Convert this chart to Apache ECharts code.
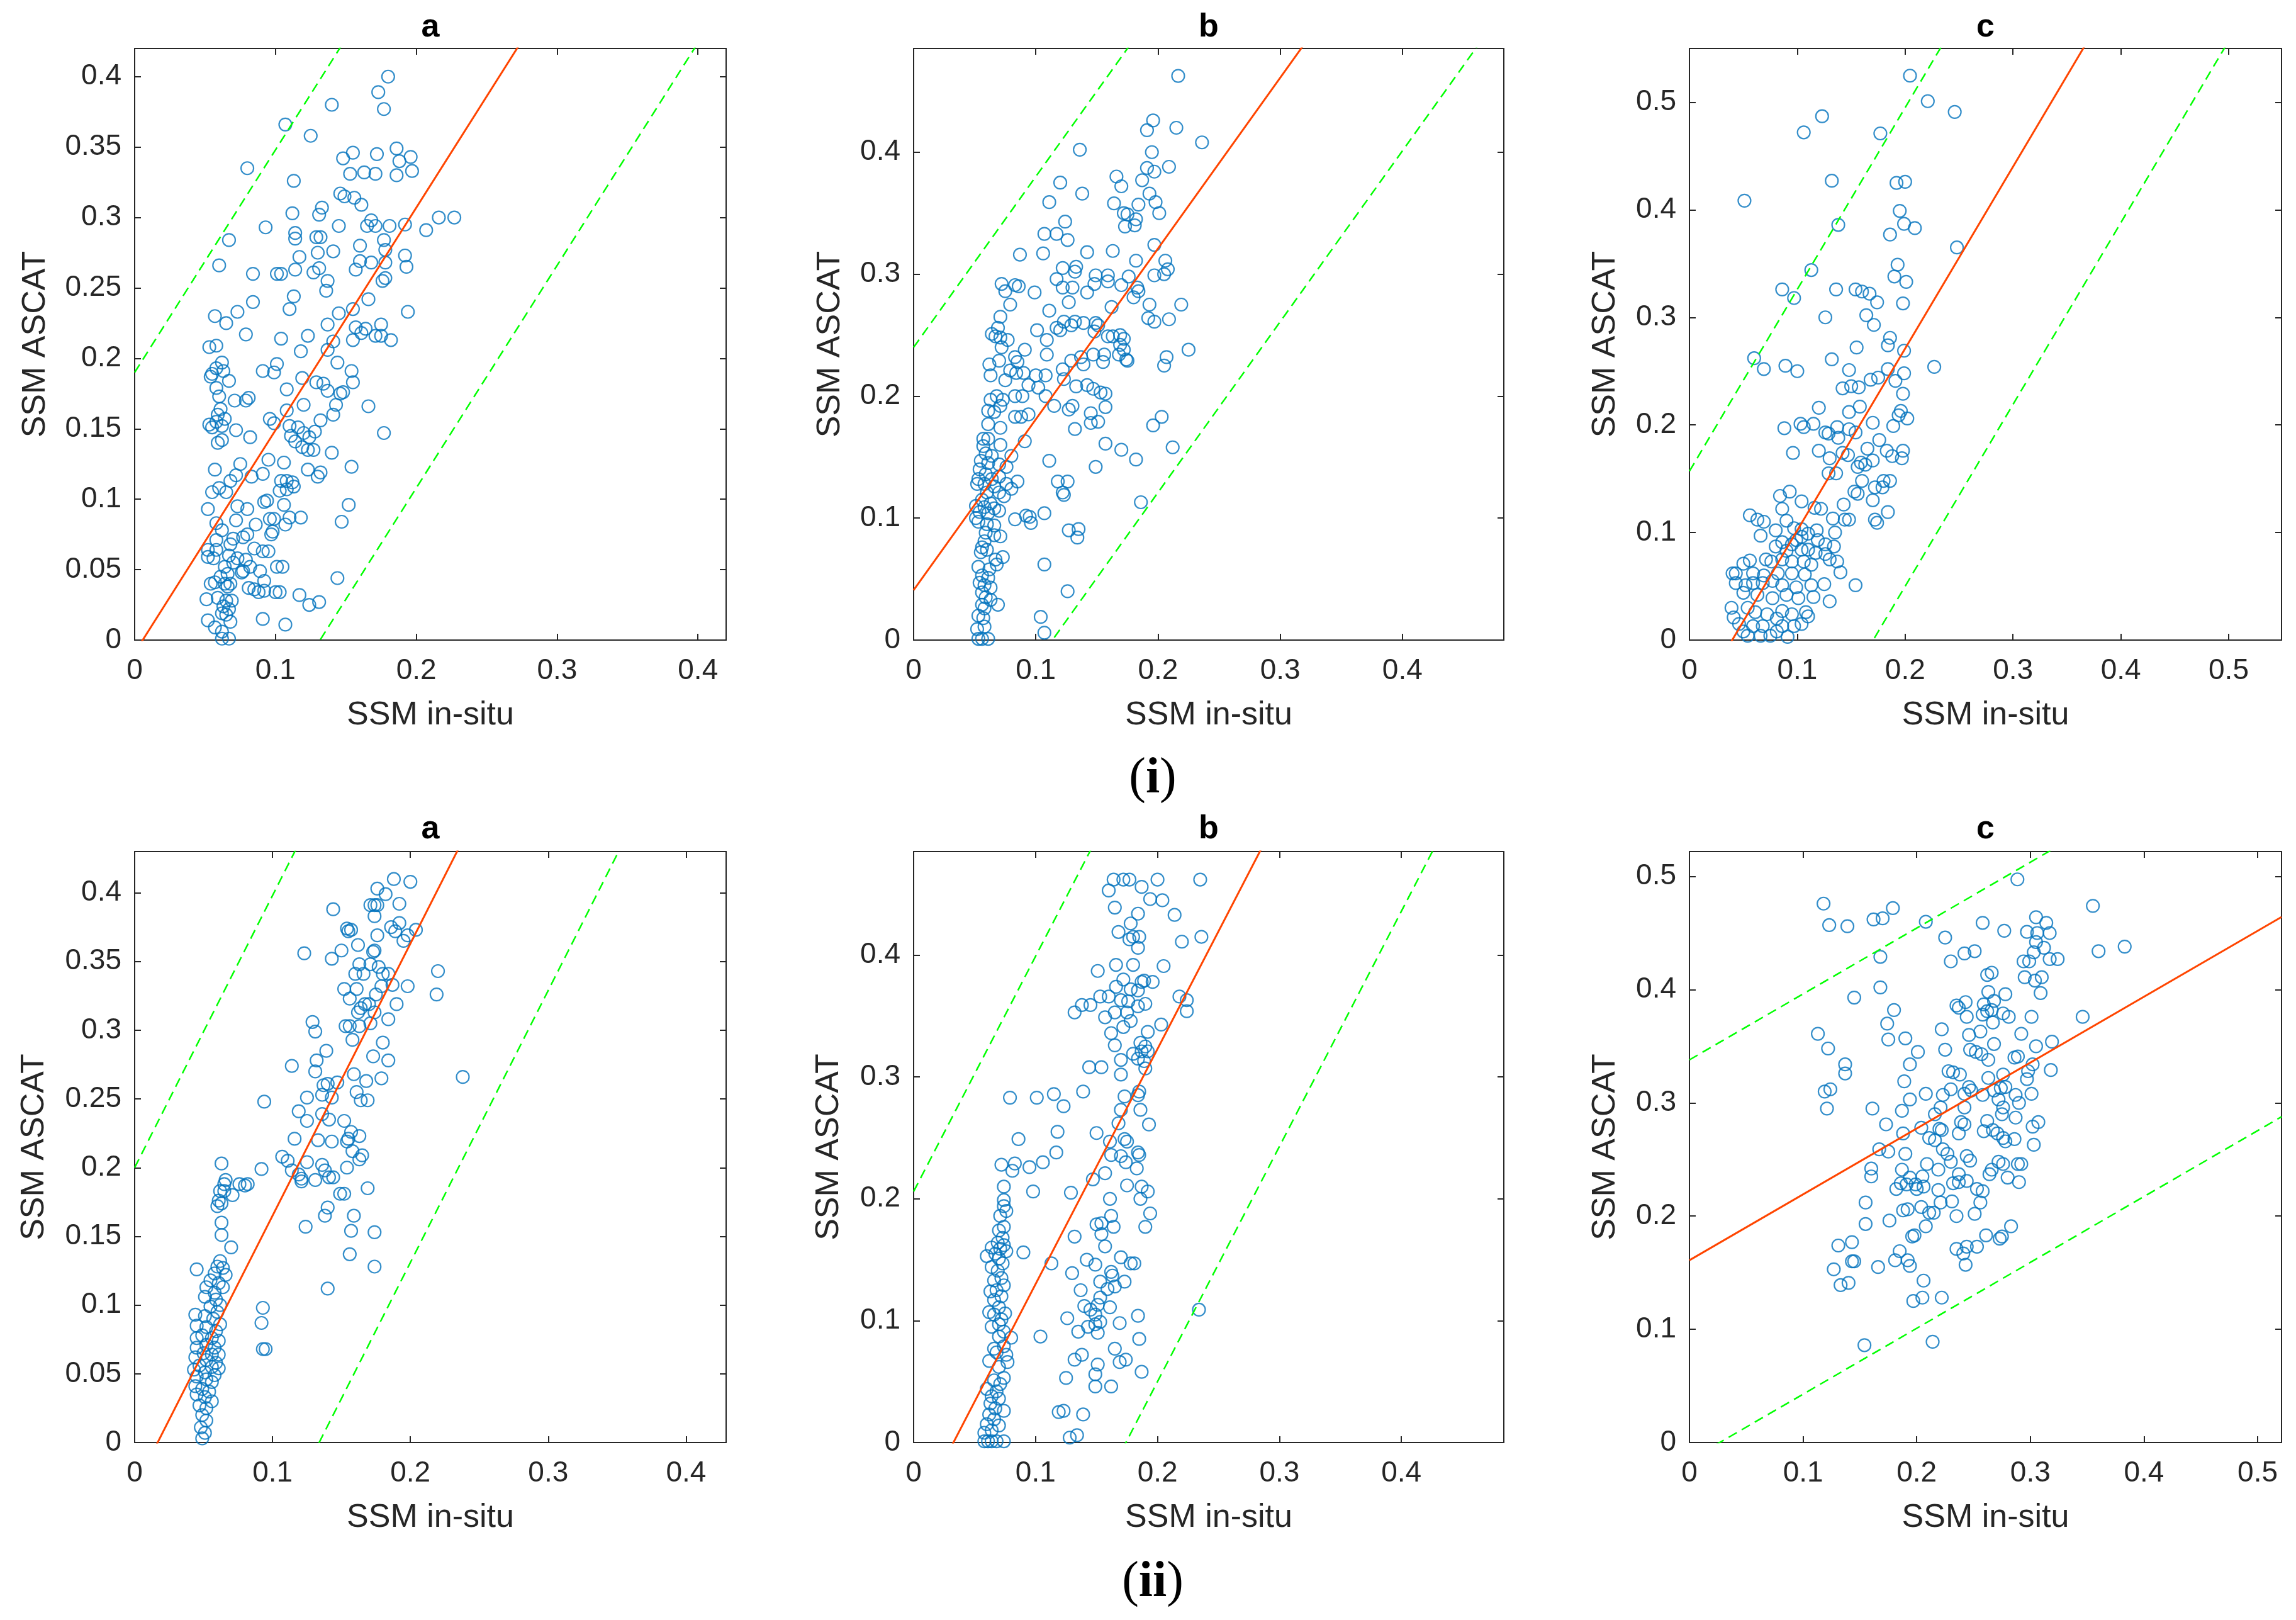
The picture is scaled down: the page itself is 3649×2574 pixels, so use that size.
<!DOCTYPE html>
<html><head><meta charset="utf-8">
<script src="https://cdn.jsdelivr.net/npm/echarts@6/dist/echarts.min.js"></script>
<style>html,body{margin:0;padding:0;background:#fff}#c{width:3649px;height:2574px}</style>
</head><body><div id="c"></div>
<script>
const panelTitles = ['a', 'b', 'c', 'a', 'b', 'c'];
const rowLabels = ['i', 'ii'];
const xAxisName = 'SSM in-situ';
const yAxisName = 'SSM ASCAT';
const xMaxes = [0.42, 0.483, 0.549, 0.429, 0.484, 0.521];
const yMaxes = [0.42, 0.485, 0.55, 0.43, 0.485, 0.522];
const xIntervals = [0.1, 0.1, 0.1, 0.1, 0.1, 0.1];
const yIntervals = [0.05, 0.1, 0.1, 0.05, 0.1, 0.1];
const fitSlopes = [1.58, 1.40, 1.69, 1.98, 1.93, 0.582];
const fitIntercepts = [-0.009, 0.041, -0.067, -0.033, -0.063, 0.161];
const upperIntercepts = [0.19, 0.24, 0.157, 0.2, 0.206, 0.338];
const lowerIntercepts = [-0.208, -0.159, -0.288, -0.265, -0.336, -0.0155];

const pointsIA = [[0.180,0.400],[0.173,0.389],[0.177,0.377],[0.140,0.380],[0.107,0.366],[0.125,0.358],[0.080,0.335],[0.186,0.349],[0.196,0.343],[0.188,0.340],[0.172,0.345],[0.155,0.346],[0.148,0.342],[0.153,0.331],[0.163,0.332],[0.171,0.331],[0.186,0.330],[0.197,0.333],[0.113,0.326],[0.146,0.317],[0.149,0.315],[0.156,0.314],[0.161,0.309],[0.133,0.307],[0.131,0.302],[0.112,0.303],[0.093,0.293],[0.145,0.294],[0.168,0.298],[0.165,0.294],[0.171,0.294],[0.181,0.294],[0.192,0.295],[0.207,0.291],[0.216,0.300],[0.227,0.300],[0.114,0.289],[0.114,0.285],[0.067,0.284],[0.129,0.286],[0.132,0.286],[0.177,0.284],[0.141,0.276],[0.130,0.275],[0.160,0.280],[0.178,0.277],[0.117,0.272],[0.192,0.273],[0.160,0.269],[0.168,0.268],[0.178,0.268],[0.060,0.266],[0.114,0.263],[0.131,0.264],[0.127,0.261],[0.157,0.263],[0.193,0.265],[0.084,0.260],[0.101,0.260],[0.104,0.260],[0.137,0.255],[0.176,0.255],[0.178,0.257],[0.136,0.248],[0.113,0.244],[0.084,0.240],[0.166,0.242],[0.110,0.235],[0.155,0.235],[0.145,0.232],[0.194,0.233],[0.073,0.233],[0.057,0.230],[0.137,0.224],[0.065,0.225],[0.175,0.224],[0.157,0.222],[0.164,0.221],[0.161,0.218],[0.171,0.216],[0.175,0.216],[0.079,0.217],[0.104,0.214],[0.123,0.216],[0.155,0.213],[0.182,0.213],[0.141,0.212],[0.053,0.208],[0.058,0.209],[0.118,0.205],[0.137,0.206],[0.101,0.196],[0.144,0.197],[0.062,0.197],[0.091,0.191],[0.099,0.190],[0.154,0.191],[0.055,0.189],[0.058,0.193],[0.063,0.191],[0.054,0.187],[0.067,0.184],[0.058,0.179],[0.119,0.186],[0.129,0.183],[0.134,0.182],[0.155,0.183],[0.108,0.178],[0.137,0.177],[0.148,0.176],[0.146,0.175],[0.060,0.173],[0.081,0.172],[0.079,0.170],[0.071,0.170],[0.166,0.166],[0.120,0.167],[0.143,0.167],[0.061,0.164],[0.108,0.163],[0.141,0.160],[0.059,0.160],[0.064,0.157],[0.096,0.157],[0.099,0.154],[0.132,0.156],[0.053,0.153],[0.058,0.155],[0.062,0.152],[0.055,0.151],[0.110,0.152],[0.072,0.149],[0.177,0.147],[0.116,0.151],[0.128,0.148],[0.111,0.145],[0.120,0.147],[0.124,0.144],[0.082,0.144],[0.062,0.142],[0.059,0.140],[0.114,0.141],[0.119,0.137],[0.123,0.135],[0.127,0.135],[0.140,0.133],[0.057,0.121],[0.154,0.123],[0.075,0.125],[0.095,0.128],[0.106,0.126],[0.123,0.121],[0.132,0.119],[0.130,0.116],[0.072,0.117],[0.091,0.118],[0.068,0.113],[0.083,0.116],[0.104,0.113],[0.108,0.113],[0.112,0.112],[0.113,0.109],[0.108,0.107],[0.103,0.106],[0.055,0.105],[0.065,0.105],[0.060,0.108],[0.092,0.098],[0.094,0.099],[0.106,0.096],[0.073,0.095],[0.080,0.093],[0.052,0.093],[0.152,0.096],[0.147,0.084],[0.072,0.085],[0.096,0.086],[0.099,0.086],[0.110,0.087],[0.118,0.087],[0.058,0.083],[0.086,0.082],[0.107,0.082],[0.098,0.077],[0.097,0.075],[0.062,0.078],[0.080,0.075],[0.077,0.073],[0.070,0.072],[0.058,0.071],[0.068,0.068],[0.052,0.064],[0.058,0.064],[0.085,0.065],[0.091,0.063],[0.095,0.063],[0.052,0.059],[0.056,0.058],[0.067,0.060],[0.073,0.058],[0.079,0.057],[0.070,0.055],[0.064,0.052],[0.082,0.052],[0.101,0.052],[0.105,0.052],[0.089,0.049],[0.076,0.048],[0.077,0.049],[0.066,0.047],[0.061,0.045],[0.144,0.044],[0.092,0.042],[0.054,0.040],[0.057,0.041],[0.064,0.040],[0.068,0.040],[0.066,0.038],[0.081,0.037],[0.085,0.036],[0.088,0.034],[0.092,0.035],[0.100,0.034],[0.103,0.034],[0.117,0.032],[0.051,0.029],[0.059,0.030],[0.065,0.028],[0.069,0.028],[0.131,0.027],[0.124,0.025],[0.063,0.024],[0.067,0.022],[0.062,0.019],[0.065,0.018],[0.052,0.014],[0.068,0.013],[0.091,0.015],[0.107,0.011],[0.057,0.009],[0.062,0.006],[0.062,0.001],[0.067,0.001]];

const pointsIB = [[0.2165,0.4625],[0.196,0.426],[0.191,0.418],[0.215,0.420],[0.236,0.408],[0.136,0.402],[0.195,0.400],[0.191,0.387],[0.197,0.384],[0.209,0.388],[0.166,0.380],[0.170,0.372],[0.187,0.377],[0.120,0.375],[0.138,0.366],[0.193,0.366],[0.111,0.359],[0.164,0.358],[0.198,0.359],[0.184,0.357],[0.201,0.350],[0.172,0.350],[0.175,0.349],[0.182,0.345],[0.173,0.339],[0.181,0.340],[0.124,0.343],[0.117,0.333],[0.107,0.333],[0.126,0.328],[0.197,0.324],[0.087,0.316],[0.106,0.317],[0.142,0.318],[0.163,0.319],[0.182,0.311],[0.206,0.311],[0.122,0.305],[0.133,0.306],[0.132,0.302],[0.208,0.304],[0.205,0.300],[0.117,0.296],[0.149,0.299],[0.159,0.299],[0.176,0.298],[0.197,0.299],[0.072,0.292],[0.083,0.291],[0.086,0.290],[0.122,0.289],[0.130,0.289],[0.148,0.292],[0.159,0.294],[0.170,0.291],[0.183,0.289],[0.075,0.286],[0.099,0.285],[0.142,0.285],[0.184,0.286],[0.180,0.281],[0.127,0.277],[0.079,0.275],[0.193,0.275],[0.219,0.275],[0.162,0.273],[0.111,0.270],[0.209,0.263],[0.192,0.264],[0.197,0.261],[0.071,0.265],[0.123,0.261],[0.132,0.261],[0.139,0.260],[0.149,0.260],[0.151,0.258],[0.129,0.258],[0.117,0.256],[0.120,0.254],[0.101,0.254],[0.069,0.256],[0.064,0.251],[0.067,0.249],[0.071,0.248],[0.109,0.246],[0.148,0.253],[0.159,0.249],[0.163,0.249],[0.169,0.250],[0.172,0.247],[0.077,0.246],[0.169,0.242],[0.172,0.238],[0.225,0.238],[0.072,0.240],[0.091,0.238],[0.147,0.234],[0.156,0.234],[0.168,0.234],[0.174,0.230],[0.207,0.232],[0.109,0.234],[0.083,0.232],[0.137,0.232],[0.129,0.229],[0.070,0.229],[0.155,0.228],[0.175,0.229],[0.085,0.228],[0.062,0.226],[0.205,0.225],[0.139,0.226],[0.122,0.222],[0.079,0.221],[0.063,0.217],[0.084,0.219],[0.090,0.219],[0.108,0.217],[0.100,0.217],[0.123,0.214],[0.075,0.213],[0.094,0.209],[0.133,0.208],[0.142,0.209],[0.102,0.207],[0.147,0.206],[0.153,0.203],[0.157,0.202],[0.083,0.200],[0.089,0.200],[0.108,0.200],[0.068,0.200],[0.063,0.197],[0.073,0.197],[0.115,0.192],[0.130,0.192],[0.071,0.192],[0.127,0.189],[0.157,0.191],[0.061,0.188],[0.066,0.187],[0.145,0.186],[0.094,0.185],[0.083,0.183],[0.088,0.183],[0.203,0.183],[0.145,0.178],[0.151,0.179],[0.061,0.177],[0.196,0.176],[0.071,0.174],[0.132,0.173],[0.057,0.165],[0.061,0.165],[0.091,0.163],[0.157,0.161],[0.212,0.158],[0.170,0.156],[0.057,0.159],[0.071,0.160],[0.059,0.153],[0.064,0.151],[0.080,0.151],[0.111,0.147],[0.182,0.148],[0.055,0.147],[0.061,0.145],[0.070,0.144],[0.076,0.142],[0.149,0.142],[0.054,0.140],[0.059,0.136],[0.064,0.132],[0.070,0.134],[0.053,0.132],[0.118,0.130],[0.126,0.130],[0.085,0.130],[0.052,0.128],[0.058,0.128],[0.066,0.126],[0.076,0.128],[0.080,0.124],[0.060,0.121],[0.122,0.121],[0.123,0.119],[0.074,0.118],[0.070,0.121],[0.056,0.115],[0.063,0.112],[0.186,0.113],[0.051,0.110],[0.058,0.109],[0.066,0.108],[0.070,0.106],[0.107,0.104],[0.054,0.105],[0.061,0.104],[0.051,0.100],[0.083,0.099],[0.092,0.102],[0.095,0.101],[0.096,0.096],[0.053,0.097],[0.060,0.095],[0.066,0.094],[0.127,0.090],[0.135,0.091],[0.134,0.084],[0.059,0.088],[0.066,0.086],[0.071,0.085],[0.058,0.081],[0.056,0.076],[0.060,0.074],[0.055,0.072],[0.073,0.068],[0.067,0.066],[0.068,0.062],[0.107,0.062],[0.053,0.060],[0.062,0.058],[0.056,0.053],[0.061,0.051],[0.054,0.047],[0.058,0.045],[0.063,0.043],[0.056,0.039],[0.059,0.035],[0.063,0.033],[0.126,0.040],[0.056,0.029],[0.069,0.029],[0.058,0.026],[0.053,0.020],[0.057,0.018],[0.104,0.019],[0.052,0.009],[0.058,0.011],[0.107,0.006],[0.053,0.001],[0.056,0.001],[0.061,0.001]];

const pointsIC = [[0.2045,0.5247],[0.221,0.501],[0.246,0.491],[0.123,0.487],[0.106,0.472],[0.177,0.471],[0.051,0.4085],[0.132,0.427],[0.192,0.425],[0.200,0.426],[0.195,0.399],[0.138,0.386],[0.199,0.387],[0.209,0.383],[0.186,0.377],[0.248,0.365],[0.193,0.349],[0.113,0.344],[0.190,0.338],[0.201,0.333],[0.086,0.326],[0.136,0.326],[0.154,0.326],[0.160,0.324],[0.167,0.322],[0.097,0.318],[0.174,0.314],[0.198,0.313],[0.126,0.300],[0.164,0.302],[0.171,0.293],[0.186,0.281],[0.184,0.274],[0.155,0.272],[0.199,0.269],[0.060,0.262],[0.132,0.261],[0.089,0.255],[0.069,0.252],[0.100,0.250],[0.227,0.254],[0.184,0.252],[0.148,0.251],[0.199,0.248],[0.168,0.242],[0.175,0.244],[0.191,0.241],[0.142,0.234],[0.150,0.236],[0.157,0.235],[0.198,0.229],[0.120,0.216],[0.158,0.217],[0.148,0.212],[0.196,0.213],[0.202,0.206],[0.194,0.209],[0.170,0.202],[0.103,0.201],[0.106,0.198],[0.088,0.197],[0.115,0.201],[0.137,0.198],[0.148,0.196],[0.126,0.193],[0.129,0.192],[0.154,0.193],[0.189,0.199],[0.138,0.188],[0.176,0.186],[0.165,0.178],[0.120,0.176],[0.096,0.174],[0.183,0.176],[0.198,0.176],[0.142,0.174],[0.147,0.172],[0.188,0.171],[0.197,0.169],[0.130,0.169],[0.159,0.165],[0.156,0.161],[0.170,0.167],[0.163,0.163],[0.129,0.155],[0.136,0.155],[0.160,0.148],[0.180,0.148],[0.186,0.148],[0.179,0.142],[0.172,0.142],[0.153,0.138],[0.156,0.136],[0.084,0.134],[0.093,0.138],[0.104,0.129],[0.170,0.130],[0.143,0.126],[0.086,0.122],[0.116,0.123],[0.122,0.122],[0.184,0.119],[0.056,0.116],[0.063,0.112],[0.069,0.110],[0.090,0.111],[0.133,0.113],[0.144,0.112],[0.148,0.112],[0.172,0.112],[0.174,0.109],[0.080,0.102],[0.097,0.104],[0.066,0.097],[0.104,0.103],[0.118,0.102],[0.135,0.100],[0.104,0.096],[0.110,0.099],[0.119,0.093],[0.086,0.091],[0.095,0.089],[0.099,0.093],[0.126,0.089],[0.134,0.087],[0.080,0.087],[0.090,0.083],[0.104,0.084],[0.110,0.084],[0.117,0.081],[0.126,0.080],[0.130,0.075],[0.137,0.073],[0.056,0.074],[0.071,0.075],[0.076,0.073],[0.086,0.075],[0.095,0.073],[0.106,0.073],[0.113,0.070],[0.050,0.071],[0.043,0.062],[0.040,0.062],[0.059,0.062],[0.069,0.060],[0.082,0.062],[0.095,0.062],[0.107,0.061],[0.140,0.063],[0.043,0.053],[0.052,0.051],[0.059,0.053],[0.068,0.053],[0.077,0.055],[0.086,0.051],[0.099,0.049],[0.113,0.051],[0.125,0.052],[0.154,0.051],[0.050,0.044],[0.063,0.042],[0.077,0.039],[0.090,0.042],[0.101,0.039],[0.115,0.040],[0.130,0.036],[0.039,0.030],[0.041,0.021],[0.054,0.030],[0.061,0.026],[0.072,0.024],[0.086,0.027],[0.095,0.024],[0.108,0.026],[0.110,0.022],[0.081,0.020],[0.046,0.015],[0.059,0.013],[0.068,0.013],[0.086,0.013],[0.097,0.013],[0.104,0.015],[0.054,0.004],[0.066,0.004],[0.075,0.004],[0.091,0.003],[0.050,0.008],[0.081,0.008]];

const pointsIIA = [[0.188,0.410],[0.200,0.408],[0.176,0.403],[0.182,0.399],[0.192,0.392],[0.171,0.391],[0.174,0.391],[0.176,0.391],[0.144,0.388],[0.174,0.383],[0.154,0.374],[0.155,0.372],[0.157,0.373],[0.186,0.375],[0.192,0.378],[0.189,0.372],[0.195,0.365],[0.198,0.369],[0.204,0.373],[0.176,0.369],[0.162,0.362],[0.123,0.356],[0.150,0.358],[0.143,0.352],[0.174,0.358],[0.173,0.357],[0.163,0.348],[0.171,0.348],[0.177,0.346],[0.220,0.343],[0.160,0.341],[0.166,0.341],[0.180,0.341],[0.184,0.341],[0.179,0.332],[0.187,0.333],[0.198,0.332],[0.152,0.330],[0.161,0.330],[0.219,0.326],[0.156,0.323],[0.175,0.326],[0.190,0.319],[0.170,0.319],[0.164,0.316],[0.167,0.319],[0.162,0.313],[0.174,0.313],[0.184,0.308],[0.129,0.306],[0.153,0.303],[0.156,0.303],[0.163,0.303],[0.171,0.305],[0.131,0.299],[0.158,0.293],[0.180,0.291],[0.139,0.285],[0.132,0.278],[0.173,0.281],[0.184,0.278],[0.114,0.274],[0.131,0.270],[0.159,0.268],[0.179,0.265],[0.168,0.263],[0.238,0.266],[0.137,0.260],[0.140,0.261],[0.147,0.262],[0.136,0.253],[0.143,0.251],[0.161,0.255],[0.164,0.249],[0.169,0.249],[0.094,0.248],[0.125,0.251],[0.119,0.241],[0.136,0.239],[0.141,0.235],[0.125,0.234],[0.152,0.234],[0.157,0.226],[0.155,0.221],[0.163,0.223],[0.116,0.221],[0.133,0.220],[0.143,0.219],[0.154,0.219],[0.158,0.212],[0.165,0.209],[0.163,0.206],[0.107,0.208],[0.111,0.205],[0.114,0.198],[0.125,0.204],[0.136,0.202],[0.138,0.198],[0.154,0.200],[0.063,0.203],[0.092,0.199],[0.119,0.195],[0.121,0.192],[0.121,0.190],[0.131,0.191],[0.141,0.193],[0.144,0.193],[0.066,0.191],[0.065,0.188],[0.076,0.188],[0.082,0.188],[0.080,0.187],[0.062,0.183],[0.065,0.183],[0.071,0.180],[0.169,0.185],[0.149,0.181],[0.152,0.181],[0.061,0.176],[0.063,0.174],[0.060,0.172],[0.140,0.171],[0.138,0.165],[0.159,0.165],[0.063,0.160],[0.124,0.157],[0.063,0.151],[0.157,0.154],[0.174,0.153],[0.070,0.142],[0.156,0.137],[0.174,0.128],[0.062,0.132],[0.060,0.128],[0.064,0.127],[0.045,0.126],[0.058,0.123],[0.066,0.122],[0.055,0.118],[0.061,0.116],[0.064,0.113],[0.140,0.112],[0.052,0.113],[0.058,0.109],[0.051,0.106],[0.059,0.104],[0.062,0.100],[0.055,0.099],[0.093,0.098],[0.060,0.095],[0.044,0.093],[0.051,0.092],[0.057,0.090],[0.062,0.086],[0.092,0.087],[0.045,0.085],[0.052,0.084],[0.059,0.081],[0.049,0.078],[0.056,0.076],[0.061,0.074],[0.045,0.076],[0.052,0.071],[0.058,0.069],[0.093,0.068],[0.095,0.068],[0.045,0.069],[0.050,0.065],[0.056,0.064],[0.061,0.064],[0.044,0.062],[0.052,0.060],[0.059,0.058],[0.047,0.056],[0.056,0.055],[0.061,0.054],[0.043,0.053],[0.051,0.051],[0.058,0.049],[0.045,0.048],[0.052,0.046],[0.056,0.044],[0.044,0.041],[0.049,0.039],[0.054,0.037],[0.045,0.035],[0.051,0.033],[0.056,0.030],[0.047,0.027],[0.052,0.025],[0.049,0.020],[0.052,0.016],[0.048,0.011],[0.051,0.007],[0.049,0.003]];

const pointsIIB = [[0.164,0.462],[0.172,0.462],[0.177,0.462],[0.200,0.462],[0.235,0.462],[0.160,0.453],[0.187,0.456],[0.194,0.446],[0.204,0.445],[0.165,0.439],[0.184,0.434],[0.214,0.433],[0.178,0.426],[0.168,0.419],[0.177,0.413],[0.185,0.415],[0.180,0.415],[0.220,0.411],[0.236,0.415],[0.184,0.406],[0.166,0.392],[0.180,0.392],[0.205,0.391],[0.151,0.387],[0.172,0.380],[0.166,0.374],[0.178,0.372],[0.187,0.378],[0.189,0.379],[0.196,0.378],[0.184,0.371],[0.153,0.366],[0.160,0.366],[0.218,0.366],[0.224,0.363],[0.170,0.363],[0.138,0.359],[0.145,0.359],[0.176,0.362],[0.184,0.358],[0.190,0.360],[0.132,0.353],[0.157,0.349],[0.165,0.353],[0.175,0.353],[0.224,0.354],[0.178,0.346],[0.172,0.341],[0.203,0.343],[0.192,0.337],[0.162,0.336],[0.186,0.328],[0.165,0.326],[0.190,0.325],[0.187,0.321],[0.180,0.319],[0.192,0.321],[0.184,0.315],[0.170,0.314],[0.189,0.313],[0.144,0.308],[0.154,0.308],[0.190,0.307],[0.170,0.302],[0.139,0.288],[0.079,0.283],[0.101,0.283],[0.115,0.286],[0.173,0.284],[0.185,0.288],[0.184,0.285],[0.123,0.276],[0.170,0.273],[0.186,0.273],[0.168,0.262],[0.193,0.261],[0.118,0.255],[0.150,0.254],[0.173,0.249],[0.086,0.249],[0.161,0.247],[0.175,0.247],[0.117,0.238],[0.184,0.238],[0.185,0.236],[0.162,0.236],[0.170,0.235],[0.072,0.228],[0.083,0.229],[0.106,0.230],[0.174,0.230],[0.081,0.223],[0.095,0.226],[0.183,0.225],[0.157,0.221],[0.147,0.216],[0.074,0.210],[0.175,0.211],[0.187,0.210],[0.192,0.206],[0.098,0.206],[0.129,0.205],[0.186,0.200],[0.161,0.200],[0.074,0.199],[0.074,0.194],[0.076,0.190],[0.194,0.188],[0.162,0.186],[0.071,0.186],[0.150,0.179],[0.154,0.180],[0.164,0.177],[0.074,0.177],[0.190,0.177],[0.070,0.174],[0.154,0.171],[0.132,0.169],[0.073,0.168],[0.069,0.164],[0.074,0.162],[0.157,0.161],[0.064,0.160],[0.071,0.159],[0.090,0.156],[0.076,0.157],[0.060,0.153],[0.067,0.155],[0.170,0.152],[0.070,0.151],[0.142,0.150],[0.073,0.147],[0.178,0.147],[0.181,0.147],[0.113,0.147],[0.064,0.144],[0.149,0.146],[0.069,0.141],[0.130,0.139],[0.162,0.140],[0.163,0.137],[0.072,0.135],[0.066,0.133],[0.173,0.132],[0.153,0.132],[0.074,0.129],[0.165,0.128],[0.159,0.126],[0.068,0.125],[0.063,0.124],[0.137,0.125],[0.072,0.120],[0.153,0.119],[0.066,0.117],[0.140,0.112],[0.151,0.113],[0.145,0.109],[0.161,0.111],[0.070,0.111],[0.062,0.107],[0.075,0.106],[0.066,0.105],[0.184,0.104],[0.126,0.102],[0.149,0.105],[0.072,0.101],[0.064,0.095],[0.070,0.097],[0.169,0.098],[0.149,0.097],[0.153,0.099],[0.143,0.095],[0.135,0.091],[0.151,0.090],[0.074,0.091],[0.070,0.087],[0.080,0.086],[0.104,0.087],[0.185,0.085],[0.074,0.079],[0.066,0.077],[0.068,0.074],[0.165,0.077],[0.076,0.072],[0.138,0.072],[0.132,0.068],[0.174,0.068],[0.169,0.066],[0.062,0.067],[0.077,0.066],[0.070,0.062],[0.151,0.064],[0.187,0.058],[0.149,0.056],[0.074,0.053],[0.125,0.053],[0.066,0.051],[0.071,0.048],[0.149,0.046],[0.162,0.046],[0.060,0.044],[0.068,0.042],[0.064,0.038],[0.070,0.036],[0.063,0.032],[0.074,0.026],[0.067,0.028],[0.119,0.025],[0.123,0.026],[0.139,0.023],[0.062,0.023],[0.066,0.019],[0.060,0.015],[0.070,0.014],[0.064,0.010],[0.128,0.004],[0.134,0.006],[0.058,0.008],[0.058,0.001],[0.061,0.001],[0.064,0.001],[0.068,0.001],[0.074,0.001],[0.234,0.109]];

const pointsIIC = [[0.2886,0.4974],[0.118,0.476],[0.355,0.474],[0.123,0.457],[0.139,0.456],[0.162,0.462],[0.170,0.463],[0.179,0.472],[0.208,0.460],[0.258,0.459],[0.277,0.452],[0.297,0.451],[0.305,0.464],[0.314,0.459],[0.306,0.450],[0.317,0.450],[0.225,0.446],[0.305,0.442],[0.312,0.437],[0.303,0.433],[0.360,0.434],[0.383,0.438],[0.242,0.432],[0.251,0.434],[0.168,0.429],[0.230,0.425],[0.294,0.425],[0.299,0.425],[0.317,0.427],[0.324,0.427],[0.295,0.411],[0.310,0.411],[0.304,0.408],[0.262,0.413],[0.266,0.415],[0.168,0.402],[0.309,0.397],[0.263,0.398],[0.278,0.396],[0.145,0.393],[0.235,0.386],[0.243,0.389],[0.237,0.384],[0.259,0.387],[0.268,0.390],[0.180,0.382],[0.244,0.376],[0.258,0.378],[0.262,0.381],[0.266,0.382],[0.276,0.379],[0.281,0.376],[0.301,0.376],[0.346,0.376],[0.267,0.371],[0.174,0.370],[0.113,0.361],[0.222,0.365],[0.256,0.363],[0.292,0.361],[0.246,0.360],[0.175,0.356],[0.190,0.357],[0.268,0.352],[0.305,0.350],[0.319,0.354],[0.122,0.348],[0.225,0.347],[0.247,0.347],[0.201,0.345],[0.252,0.345],[0.257,0.343],[0.286,0.340],[0.289,0.341],[0.137,0.334],[0.194,0.334],[0.263,0.338],[0.302,0.334],[0.137,0.326],[0.228,0.328],[0.232,0.327],[0.238,0.325],[0.318,0.329],[0.298,0.328],[0.276,0.325],[0.263,0.322],[0.297,0.321],[0.189,0.319],[0.119,0.310],[0.124,0.312],[0.230,0.312],[0.246,0.314],[0.248,0.311],[0.268,0.311],[0.274,0.313],[0.278,0.314],[0.208,0.308],[0.223,0.307],[0.242,0.308],[0.258,0.307],[0.287,0.307],[0.301,0.308],[0.194,0.303],[0.272,0.303],[0.290,0.300],[0.121,0.295],[0.161,0.295],[0.187,0.293],[0.221,0.296],[0.276,0.296],[0.242,0.296],[0.216,0.290],[0.275,0.290],[0.287,0.287],[0.262,0.284],[0.239,0.283],[0.307,0.283],[0.173,0.281],[0.242,0.281],[0.302,0.279],[0.204,0.278],[0.222,0.276],[0.220,0.277],[0.259,0.275],[0.267,0.276],[0.271,0.273],[0.237,0.273],[0.188,0.273],[0.211,0.269],[0.216,0.267],[0.276,0.269],[0.286,0.268],[0.278,0.266],[0.303,0.263],[0.167,0.259],[0.175,0.257],[0.190,0.255],[0.223,0.259],[0.227,0.255],[0.230,0.248],[0.244,0.253],[0.247,0.249],[0.272,0.248],[0.276,0.246],[0.209,0.246],[0.289,0.246],[0.292,0.246],[0.160,0.242],[0.187,0.241],[0.219,0.241],[0.266,0.241],[0.264,0.237],[0.160,0.235],[0.194,0.234],[0.205,0.235],[0.237,0.237],[0.280,0.234],[0.186,0.229],[0.191,0.228],[0.199,0.228],[0.232,0.229],[0.237,0.230],[0.244,0.231],[0.290,0.230],[0.182,0.224],[0.200,0.224],[0.206,0.226],[0.219,0.223],[0.253,0.224],[0.258,0.222],[0.155,0.212],[0.221,0.212],[0.231,0.213],[0.256,0.212],[0.204,0.208],[0.188,0.205],[0.192,0.206],[0.211,0.203],[0.215,0.203],[0.235,0.200],[0.251,0.202],[0.176,0.196],[0.155,0.193],[0.208,0.191],[0.283,0.191],[0.196,0.182],[0.198,0.183],[0.261,0.183],[0.273,0.180],[0.275,0.182],[0.131,0.174],[0.143,0.177],[0.235,0.171],[0.244,0.173],[0.253,0.173],[0.241,0.167],[0.185,0.169],[0.181,0.161],[0.143,0.160],[0.145,0.160],[0.192,0.161],[0.194,0.156],[0.166,0.155],[0.127,0.153],[0.243,0.157],[0.133,0.139],[0.140,0.141],[0.206,0.143],[0.197,0.125],[0.205,0.128],[0.222,0.128],[0.154,0.086],[0.214,0.089]];

const panelPoints = [pointsIA, pointsIB, pointsIC, pointsIIA, pointsIIB, pointsIIC];

// ---- layout (pixels) ----
const gridBoxes = [[214,77,940,940],[1452,77,938,940],[2685,77,941,940],[214,1353,940,939],[1452,1353,938,939],[2685,1353,941,939]];
const yNameGaps = [131,106,107,133,108,107];
const FONT = 'Liberation Sans, Arial, Helvetica, sans-serif';
const AX = '#262626';

const chart = echarts.init(document.getElementById('c'), null, {renderer: 'canvas'});
const grids = [], xAxes = [], yAxes = [], series = [], graphics = [];
const fmt = v => String(+v.toFixed(3));

for (let i = 0; i < 6; i++) {
  const [l, t, w, h] = gridBoxes[i];
  grids.push({left: l, top: t, width: w, height: h, containLabel: false});
  const common = {type: 'value', gridIndex: i, min: 0, splitLine: {show: false},
    axisLine: {show: true, onZero: false, lineStyle: {color: AX, width: 2}},
    axisTick: {show: true, inside: true, length: 10, lineStyle: {color: AX, width: 2}}};
  xAxes.push(Object.assign({}, common, {max: xMaxes[i], interval: xIntervals[i], position: 'bottom',
    axisLabel: {show: true, margin: 26, fontSize: 46, color: AX, fontFamily: FONT, showMaxLabel: false, formatter: fmt},
    name: xAxisName, nameLocation: 'middle', nameGap: 94,
    nameTextStyle: {fontSize: 52, color: AX, fontFamily: FONT}}));
  xAxes.push(Object.assign({}, common, {max: xMaxes[i], interval: xIntervals[i], position: 'top',
    axisLabel: {show: false}}));
  yAxes.push(Object.assign({}, common, {max: yMaxes[i], interval: yIntervals[i], position: 'left',
    axisLabel: {show: true, margin: 21, fontSize: 46, color: AX, fontFamily: FONT, showMaxLabel: false, formatter: fmt},
    name: yAxisName, nameLocation: 'middle', nameGap: yNameGaps[i], nameRotate: 90,
    nameTextStyle: {fontSize: 52, color: AX, fontFamily: FONT}}));
  yAxes.push(Object.assign({}, common, {max: yMaxes[i], interval: yIntervals[i], position: 'right',
    axisLabel: {show: false}}));

  const xa = 2 * i, ya = 2 * i;
  series.push({type: 'scatter', xAxisIndex: xa, yAxisIndex: ya, data: panelPoints[i],
    symbol: 'circle', symbolSize: 20, silent: true, z: 2,
    itemStyle: {color: 'rgba(0,0,0,0)', borderColor: '#0072BD', borderWidth: 2.2}});
  const xm = xMaxes[i];
  const mk = b => [[0, b], [xm, b + fitSlopes[i] * xm]];
  series.push({type: 'line', xAxisIndex: xa, yAxisIndex: ya, data: mk(fitIntercepts[i]), clip: true,
    showSymbol: false, symbol: 'none', silent: true, z: 4, lineStyle: {color: '#FF4500', width: 3}});
  [upperIntercepts[i], lowerIntercepts[i]].forEach(b => {
    series.push({type: 'line', xAxisIndex: xa, yAxisIndex: ya, data: mk(b), clip: true,
      showSymbol: false, symbol: 'none', silent: true, z: 3,
      lineStyle: {color: '#00FF00', width: 2.5, type: [15, 9]}});
  });

  graphics.push({type: 'text', x: l + w / 2, y: t - (i < 3 ? 33 : 35), silent: true,
    style: {text: panelTitles[i], fill: '#000', font: 'bold 52px ' + FONT,
      textAlign: 'center', textVerticalAlign: 'middle', align: 'center', verticalAlign: 'middle'}});
}

const labelYs = [1238, 2515];
rowLabels.forEach((lab, r) => {
  graphics.push({type: 'text', x: 1832, y: labelYs[r], silent: true,
    style: {text: '{p|(}{b|' + lab + '}{p|)}', fill: '#000',
      textAlign: 'center', textVerticalAlign: 'middle', align: 'center', verticalAlign: 'middle',
      rich: {p: {font: '80px Liberation Serif, Times New Roman, serif', fill: '#000'},
             b: {font: 'bold 80px Liberation Serif, Times New Roman, serif', fill: '#000'}}}});
});

chart.setOption({
  animation: false,
  backgroundColor: '#ffffff',
  grid: grids, xAxis: xAxes, yAxis: yAxes, series: series, graphic: graphics
});
</script>
</body></html>
